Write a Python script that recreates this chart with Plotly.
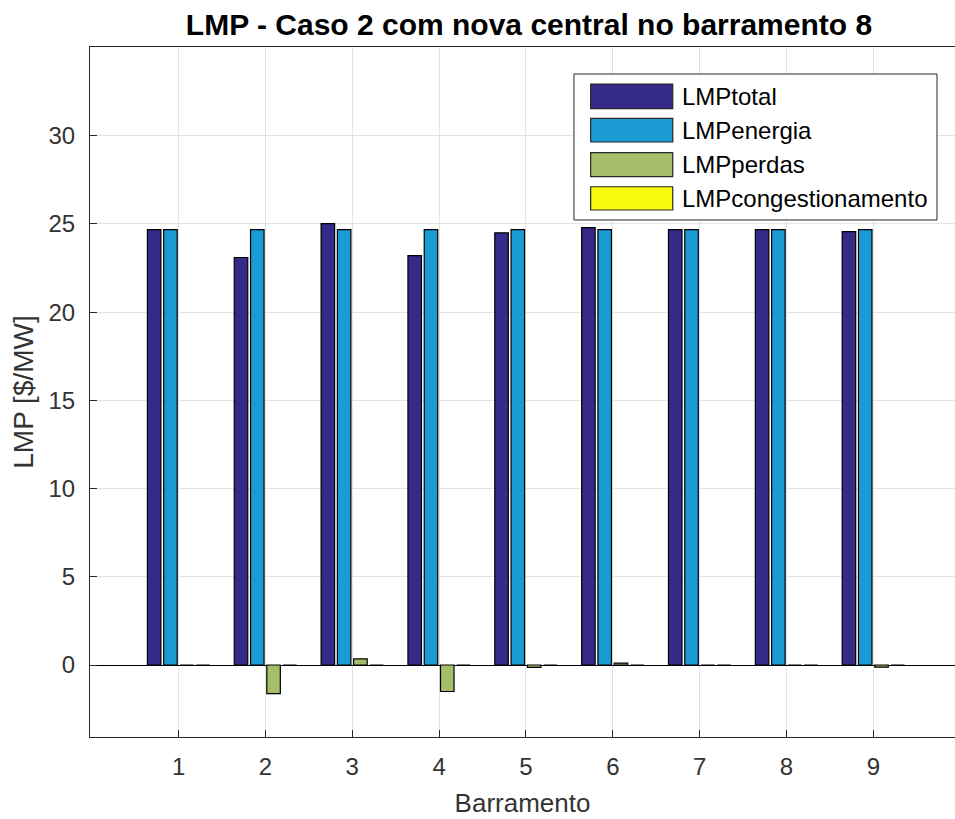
import plotly.graph_objects as go

barramento = [1, 2, 3, 4, 5, 6, 7, 8, 9]
lmp_total = [24.68, 23.10, 25.02, 23.20, 24.50, 24.79, 24.68, 24.68, 24.57]
lmp_energia = [24.68, 24.68, 24.68, 24.68, 24.68, 24.68, 24.68, 24.68, 24.68]
lmp_perdas = [0.0, -1.62, 0.35, -1.50, -0.13, 0.11, 0.0, 0.0, -0.12]
lmp_congestionamento = [0, 0, 0, 0, 0, 0, 0, 0, 0]

series = [
    ("LMPtotal", lmp_total, "#352A87"),
    ("LMPenergia", lmp_energia, "#1B9BD3"),
    ("LMPperdas", lmp_perdas, "#A6BE6A"),
    ("LMPcongestionamento", lmp_congestionamento, "#F9FB0E"),
]

font_fam = "Liberation Sans, Arial, sans-serif"
text_col = "#333333"

fig = go.Figure()
for name, vals, col in series:
    fig.add_trace(go.Bar(
        x=barramento, y=vals, name=name,
        marker=dict(color=col, line=dict(color="black", width=1.2)),
        showlegend=False,
    ))

# Legend drawn MATLAB-style (wide swatches) in paper coordinates
shapes = [dict(type="rect", xref="paper", yref="paper",
               x0=0.5595, x1=0.9792, y0=0.7493, y1=0.9609,
               fillcolor="white", line=dict(color="#262626", width=1), layer="above")]
annotations = []
row_sw = [(0.9106, 0.9464), (0.8623, 0.8967), (0.8120, 0.8468), (0.7638, 0.7975)]
for (name, vals, col), (y0, y1) in zip(series, row_sw):
    shapes.append(dict(type="rect", xref="paper", yref="paper",
                       x0=0.5788, x1=0.6737, y0=y0, y1=y1,
                       fillcolor=col, line=dict(color="#262626", width=1.2), layer="above"))
    annotations.append(dict(xref="paper", yref="paper", x=0.6821, y=(y0 + y1) / 2,
                            text=name, showarrow=False, xanchor="left", yanchor="middle",
                            font=dict(family=font_fam, size=24, color="black")))

fig.update_layout(
    width=955, height=819,
    paper_bgcolor="white", plot_bgcolor="white",
    margin=dict(l=90, r=0, t=47, b=82),
    barmode="group", bargap=0.25, bargroupgap=0.17,
    font=dict(family=font_fam, size=24, color=text_col),
    title=dict(text="<b>LMP - Caso 2 com nova central no barramento 8</b>",
               x=529 / 955, xref="container",
               y=1 - 24.5 / 819, yref="container",
               xanchor="center", yanchor="middle",
               font=dict(family=font_fam, size=30, color="black")),
    xaxis=dict(range=[-0.02, 9.94], tickvals=barramento, ticktext=[str(b) for b in barramento],
               title=dict(text="Barramento", font=dict(size=26, color=text_col), standoff=15),
               showgrid=True, gridcolor="#E3E3E3", gridwidth=1,
               showline=True, linecolor="#262626", linewidth=1, mirror=True,
               ticks="inside", ticklen=7, tickcolor="#262626", ticklabelstandoff=8,
               zeroline=False),
    yaxis=dict(range=[-4.08, 35.03], tickvals=[0, 5, 10, 15, 20, 25, 30],
               title=dict(text="LMP [$/MW]", font=dict(size=28, color=text_col), standoff=6),
               showgrid=True, gridcolor="#E3E3E3", gridwidth=1,
               showline=True, linecolor="#262626", linewidth=1, mirror=True,
               ticks="inside", ticklen=7, tickcolor="#262626", ticklabelstandoff=9,
               zeroline=True, zerolinecolor="black", zerolinewidth=1),
    shapes=shapes,
    annotations=annotations,
    showlegend=False,
)

fig.write_html(
    "out.html",
    config={"displayModeBar": False},
    post_script="document.body.style.margin='0';document.body.style.overflow='hidden';",
)
